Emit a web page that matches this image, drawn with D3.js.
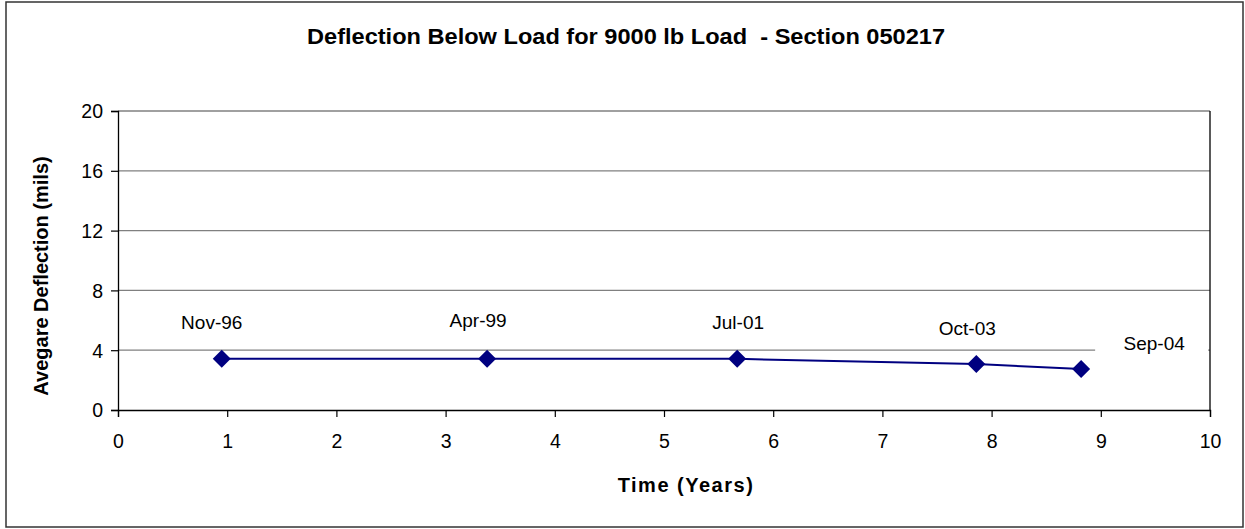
<!DOCTYPE html>
<html><head><meta charset="utf-8">
<script src="https://cdn.jsdelivr.net/npm/d3@7"></script>
<style>body{margin:0;background:#fff}svg{display:block;font-family:"Liberation Sans",Arial,sans-serif}</style>
</head><body>
<svg id="c" width="1245" height="529"></svg>
<script>
const dateLabels = ["Nov-96","Apr-99","Jul-01","Oct-03","Sep-04"];
const years = [0.95, 3.38, 5.67, 7.86, 8.82];
const deflection = [3.42, 3.42, 3.42, 3.08, 2.74];
const xTicks = [0,1,2,3,4,5,6,7,8,9,10];
const yTicks = [0,4,8,12,16,20];
const title = "Deflection Below Load for 9000 lb Load  - Section 050217";
const xTitle = "Time (Years)";
const yTitle = "Avegare Deflection (mils)";
// label placement offsets (layout)
const labelDx = [-10,-9,1,-9,73];
const labelDy = [-37,-39,-37,-36,-26];

const svg = d3.select("#c");
const L=118, R=1210, T=111, B=410;
const x = d3.scaleLinear().domain([0,10]).range([L,R]);
const y = d3.scaleLinear().domain([0,20]).range([B,T]);

svg.append("rect").attr("x",6).attr("y",2).attr("width",1237).attr("height",525)
  .attr("fill","#fff").attr("stroke","#333").attr("stroke-width",1.5);

svg.append("g").selectAll("line").data(yTicks.filter(d=>d>0)).join("line")
  .attr("x1",L).attr("x2",R).attr("y1",d=>y(d)).attr("y2",d=>y(d))
  .attr("stroke","#808080").attr("stroke-width",1.3);

svg.append("line").attr("x1",R).attr("x2",R).attr("y1",T).attr("y2",B).attr("stroke","#000").attr("stroke-width",1.3);

const xa = svg.append("g").attr("transform",`translate(0,${B})`)
  .call(d3.axisBottom(x).tickValues(xTicks).tickSize(7).tickPadding(8).tickFormat(d3.format("d")));
const ya = svg.append("g").attr("transform",`translate(${L},0)`)
  .call(d3.axisLeft(y).tickValues(yTicks).tickSize(7).tickPadding(6).tickFormat(d3.format("d")));
[xa,ya].forEach(a=>{
  a.select(".domain").attr("stroke","#000").attr("stroke-width",1.3);
  a.selectAll(".tick line").attr("stroke","#000").attr("stroke-width",1.2);
  a.selectAll("text").attr("font-size",19.5).attr("fill","#000").attr("font-family","Liberation Sans, Arial, sans-serif");
});
xa.selectAll("text").attr("dy","1.2em");
ya.selectAll("text").attr("dy","0.35em").attr("x",-15);

const pts = years.map((v,i)=>({x:v,y:deflection[i],lab:dateLabels[i],dx:labelDx[i],dy:labelDy[i]}));

svg.append("path").datum(pts)
  .attr("d",d3.line().x(d=>x(d.x)).y(d=>y(d.y)))
  .attr("fill","none").attr("stroke","#000080").attr("stroke-width",2);

svg.append("g").selectAll("path").data(pts).join("path")
  .attr("transform",d=>`translate(${x(d.x)},${y(d.y)})`)
  .attr("d","M0,-9L9,0L0,9L-9,0Z").attr("fill","#000080");

const lg = svg.append("g").selectAll("g").data(pts).join("g")
  .attr("transform",d=>`translate(${x(d.x)+d.dx},${y(d.y)+d.dy})`);
lg.each(function(d,i){
  const g=d3.select(this);
  if(i===pts.length-1){
    g.append("rect").attr("x",-59).attr("y",-17).attr("width",113).attr("height",30).attr("fill","#fff");
  }
  g.append("text").attr("text-anchor","middle").attr("dy","0.35em")
    .attr("font-size",19).attr("fill","#000").text(d.lab);
});

svg.append("text").attr("x",626).attr("y",44).attr("text-anchor","middle")
  .attr("font-size",22.5).attr("font-weight","bold").attr("textLength",638).attr("lengthAdjust","spacingAndGlyphs")
  .style("white-space","pre").text(title);
svg.append("text").attr("x",686).attr("y",492).attr("text-anchor","middle")
  .attr("font-size",20).attr("font-weight","bold").attr("letter-spacing",1.5).text(xTitle);
svg.append("text").attr("transform","translate(48,276) rotate(-90)").attr("text-anchor","middle")
  .attr("font-size",20).attr("font-weight","bold").text(yTitle);
</script>
</body></html>
